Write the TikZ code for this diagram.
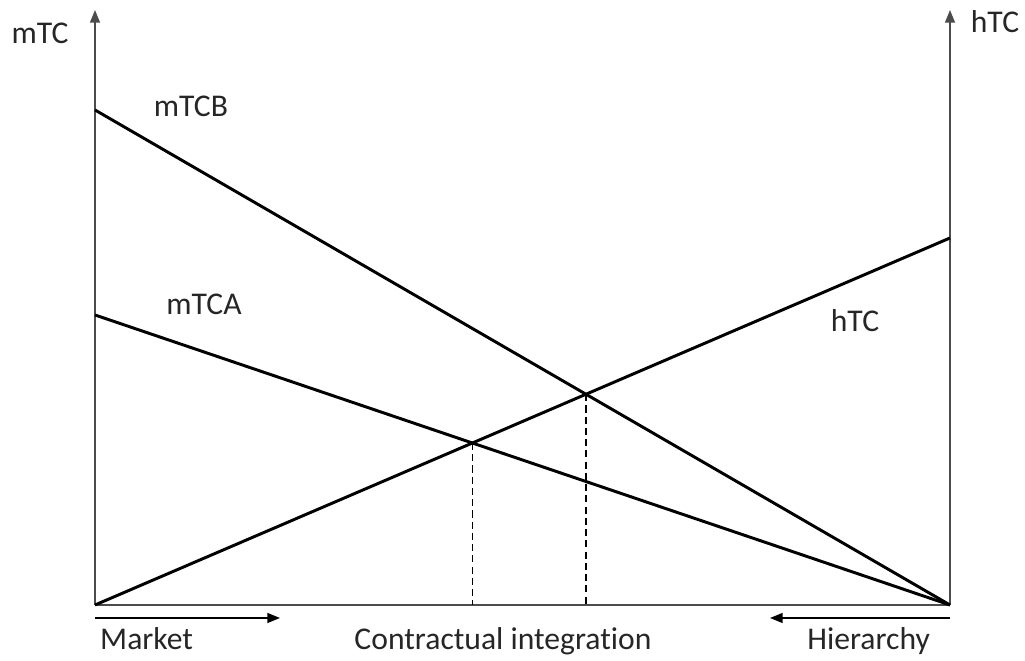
\documentclass[tikz,border=0pt]{standalone}
\usepackage{fontspec}
\setmainfont{Carlito}[Ligatures=NoCommon]
\usetikzlibrary{arrows.meta}
\tikzset{
  axis/.style={line width=1.3pt, -{Triangle[length=9pt,width=7pt]}, color=black!70},
  cost/.style={line width=2.1pt, black},
  guide/.style={line width=1.1pt, dash pattern=on 5pt off 3pt},
  dir/.style={line width=1.3pt, -{Triangle[length=9pt,width=7pt]}},
  lab/.style={font=\fontsize{22.5}{26}\selectfont, text=black!85, anchor=base}
}
\begin{document}
\begin{tikzpicture}
\useasboundingbox (-2.375,-1.4) rectangle (23.25,15.125);
% ---------- axes ----------
\coordinate (O) at (0,0);
\coordinate (R) at (21.375,0);
\coordinate (Ltop) at (0,14.875);
\coordinate (Rtop) at (21.375,14.875);
\draw[line width=1.3pt, black!70] (O) -- (R);
\draw[axis] (O) -- (Ltop);
\draw[axis] (R) -- (Rtop);
\node[lab] (mtc) at (-1.375,14.025) {mTC};
\node[lab] (htcaxis) at (22.5,14.3) {hTC};
% ---------- cost lines ----------
\coordinate (B0) at (0,12.375);
\coordinate (A0) at (0,7.25);
\coordinate (H1) at (21.375,9.175);
\draw[cost] (B0) -- (R);
\draw[cost] (A0) -- (R);
\draw[cost] (O) -- (H1);
\node[lab] (mtcb) at (2.4,12.2) {mTCB};
\node[lab] (mtca) at (2.725,7.25) {mTCA};
\node[lab] (htc) at (19.0,6.825) {hTC};
% ---------- crossings ----------
\coordinate (XA) at (intersection of A0--R and O--H1);
\coordinate (XB) at (intersection of B0--R and O--H1);
\draw[guide] (XA) -- (XA |- O);
\draw[guide] (XB) -- (XB |- O);
% ---------- directions ----------
\coordinate (mstart) at (0,-0.325);
\coordinate (mend) at (4.625,-0.325);
\coordinate (hstart) at (21.375,-0.325);
\coordinate (hend) at (16.875,-0.325);
\draw[dir] (mstart) -- (mend);
\draw[dir] (hstart) -- (hend);
\node[lab] (market) at (1.29,-1.125) {Market};
\node[lab] (contract) at (10.2,-1.125) {Contractual integration};
\node[lab] (hier) at (19.34,-1.125) {Hierarchy};
\end{tikzpicture}
\end{document}
